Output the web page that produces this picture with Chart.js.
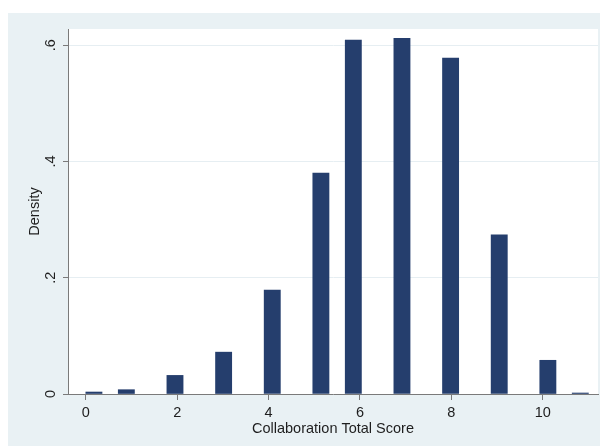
<!DOCTYPE html>
<html>
<head>
<meta charset="utf-8">
<title>Collaboration Total Score – density histogram</title>
<script src="https://cdn.jsdelivr.net/npm/chart.js@4.4.1/dist/chart.umd.min.js"></script>
<style>
  html, body { margin: 0; padding: 0; background: #ffffff; }
  #wrap { width: 603px; height: 446px; }
</style>
</head>
<body>
<div id="wrap"><canvas id="hist" width="603" height="446"></canvas></div>
<script>
// Observed scores and the density of the histogram bin each one falls in
const scores  = [0, 1, 2, 3, 4, 5, 6, 7, 8, 9, 10, 11];
const density = [0.0034, 0.0074, 0.032, 0.072, 0.179, 0.380, 0.609, 0.612, 0.578, 0.274, 0.058, 0.0017];

// Histogram binning: 31 equal-width bins spanning the score range
const scoreMin = 0;
const scoreMax = 11;
const binCount = 31;

// Axis tick values
const xTicks = [0, 2, 4, 6, 8, 10];
const yTicks = [0, 0.2, 0.4, 0.6];

const xTitle = 'Collaboration Total Score';
const yTitle = 'Density';

// Build one point per bin; empty bins carry no bar
const binWidth = (scoreMax - scoreMin) / binCount;
const binHeights = new Array(binCount).fill(null);
scores.forEach((s, i) => {
  const k = Math.min(Math.floor((s - scoreMin) / binWidth), binCount - 1);
  binHeights[k] = density[i];
});
const binPoints = binHeights.map((d, k) => ({ x: scoreMin + (k + 0.5) * binWidth, y: d }));

const pageBg  = '#ffffff';
const frameBg = '#e9f1f4';
const gridCol = '#e6eef2';
const axisCol = '#7a7a7a';
const textCol = '#1e1e1e';
const barCol  = '#253e6d';
const font = { family: '"Liberation Sans", Arial, sans-serif', size: 14.5 };

// Paints the page background, the tinted frame and the white plot region
const backdrop = {
  id: 'backdrop',
  beforeDraw(chart) {
    const { ctx, chartArea: a } = chart;
    ctx.save();
    ctx.fillStyle = pageBg;
    ctx.fillRect(0, 0, chart.width, chart.height);
    ctx.fillStyle = frameBg;
    ctx.fillRect(8, 13, 592, 433);
    ctx.fillStyle = '#ffffff';
    ctx.fillRect(a.left, a.top, a.right - a.left, a.bottom - a.top);
    ctx.restore();
  }
};

new Chart(document.getElementById('hist'), {
  type: 'bar',
  data: {
    datasets: [{
      data: binPoints,
      backgroundColor: barCol,
      borderWidth: 0,
      barPercentage: 1,
      categoryPercentage: 1
    }]
  },
  options: {
    responsive: false,
    animation: false,
    devicePixelRatio: 1,
    layout: { padding: { left: 8, top: 29, right: 5, bottom: 1 } },
    plugins: { legend: { display: false }, tooltip: { enabled: false } },
    scales: {
      x: {
        type: 'linear',
        offset: false,
        min: -0.39,
        max: 11.21,
        afterBuildTicks: s => { s.ticks = xTicks.map(v => ({ value: v })); },
        afterFit: s => { s.height = 51; },
        grid: { offset: false, drawOnChartArea: false, drawTicks: true, tickLength: 6, tickColor: axisCol, tickWidth: 1 },
        border: { display: true, color: axisCol, width: 1 },
        ticks: { color: textCol, font, padding: 4, maxRotation: 0, minRotation: 0, autoSkip: false },
        title: { display: true, text: xTitle, color: textCol, font, padding: { top: 0, bottom: 7 } }
      },
      y: {
        type: 'linear',
        min: 0,
        max: 0.628,
        afterBuildTicks: s => { s.ticks = yTicks.map(v => ({ value: v })); },
        afterFit: s => { s.width = 60; },
        grid: {
          color: c => (c.tick && c.tick.value === 0 ? 'rgba(0,0,0,0)' : gridCol),
          lineWidth: 1,
          drawTicks: true,
          tickLength: 5,
          tickColor: axisCol
        },
        border: { display: true, color: axisCol, width: 1 },
        ticks: {
          color: textCol,
          font,
          padding: 6,
          minRotation: 90,
          maxRotation: 90,
          crossAlign: 'center',
          autoSkip: false,
          callback: v => (v === 0 ? '0' : String(+v.toFixed(1)).replace(/^0/, ''))
        },
        title: { display: true, text: yTitle, color: textCol, font, padding: { top: 18, bottom: 0 } }
      }
    }
  },
  plugins: [backdrop]
});
</script>
</body>
</html>
